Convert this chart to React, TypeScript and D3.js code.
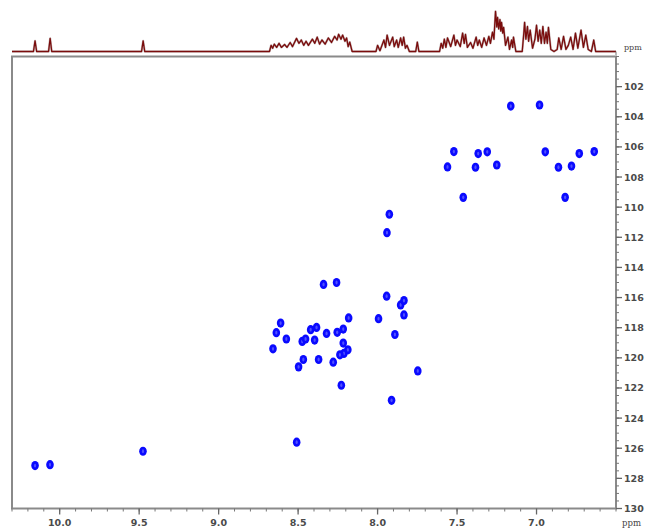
import React from 'react'
import * as d3 from 'd3'

// 2D cross peaks: [1H ppm, 15N ppm]
const crossPeaks: [number, number][] = [
  [10.155, 127.15], [10.061, 127.09], [9.476, 126.2], [8.509, 125.6],
  [7.926, 110.47], [7.941, 111.69], [7.943, 115.91], [7.855, 116.49], [7.834, 116.2],
  [7.834, 117.15], [7.994, 117.4], [7.891, 118.45], [7.747, 120.87], [7.912, 122.82],
  [8.34, 115.13], [8.258, 115.0], [8.182, 117.35], [8.61, 117.69], [8.637, 118.33],
  [8.574, 118.75], [8.658, 119.4], [8.421, 118.13], [8.384, 117.98], [8.396, 118.82],
  [8.321, 118.38], [8.254, 118.31], [8.216, 118.09], [8.474, 118.91], [8.453, 118.75],
  [8.216, 119.02], [8.187, 119.47], [8.212, 119.71], [8.237, 119.8], [8.467, 120.11],
  [8.371, 120.11], [8.279, 120.29], [8.497, 120.6], [8.228, 121.82],
  [7.162, 103.29], [6.981, 103.22], [7.52, 106.31], [7.367, 106.44], [7.31, 106.33],
  [6.945, 106.33], [6.731, 106.44], [6.637, 106.31], [7.56, 107.33], [7.384, 107.35],
  [7.25, 107.2], [6.862, 107.35], [6.78, 107.27], [7.461, 109.35], [6.82, 109.35],
]

// 1D proton trace on top: [ppm, relative intensity]
const trace1D: [number, number][] = [
  [10.3, 0], [10.165, 0], [10.155, 0.26], [10.145, 0], [10.07, 0], [10.06, 0.32], [10.05, 0],
  [9.485, 0], [9.475, 0.26], [9.465, 0], [8.68, 0], [8.67, 0.15], [8.66, 0.08], [8.65, 0.18],
  [8.635, 0.1], [8.62, 0.2], [8.605, 0.1], [8.585, 0.17], [8.57, 0.1], [8.55, 0.22], [8.535, 0.12],
  [8.51, 0.32], [8.495, 0.2], [8.48, 0.28], [8.465, 0.15], [8.45, 0.25], [8.435, 0.15], [8.41, 0.3],
  [8.395, 0.2], [8.38, 0.35], [8.365, 0.18], [8.35, 0.28], [8.33, 0.18], [8.31, 0.33], [8.29, 0.22],
  [8.27, 0.37], [8.255, 0.28], [8.245, 0.42], [8.23, 0.3], [8.22, 0.4], [8.205, 0.25], [8.195, 0.33],
  [8.185, 0.12], [8.175, 0.23], [8.16, 0], [8.01, 0], [8.0, 0.15], [7.985, 0.02], [7.96, 0.28],
  [7.95, 0.1], [7.94, 0.4], [7.925, 0.15], [7.905, 0.35], [7.895, 0.12], [7.88, 0.28], [7.87, 0.1],
  [7.855, 0.33], [7.845, 0.15], [7.836, 0.35], [7.825, 0.08], [7.815, 0.15], [7.8, 0], [7.76, 0],
  [7.75, 0.23], [7.74, 0], [7.61, 0], [7.6, 0.2], [7.59, 0.08], [7.58, 0.3], [7.57, 0.1], [7.56, 0.33],
  [7.54, 0.12], [7.52, 0.4], [7.51, 0.15], [7.5, 0.28], [7.48, 0.12], [7.465, 0.45], [7.455, 0.2],
  [7.447, 0.42], [7.435, 0.1], [7.415, 0.22], [7.4, 0.08], [7.38, 0.35], [7.37, 0.15], [7.36, 0.28],
  [7.345, 0.1], [7.33, 0.33], [7.315, 0.15], [7.3, 0.37], [7.29, 0.2], [7.277, 0.47], [7.268, 0.3],
  [7.258, 0.98], [7.25, 0.6], [7.245, 0.83], [7.238, 0.55], [7.23, 0.78], [7.225, 0.5], [7.22, 0.71],
  [7.213, 0.45], [7.207, 0.59], [7.195, 0.15], [7.18, 0.35], [7.17, 0.05], [7.157, 0.28], [7.15, 0.1],
  [7.145, 0.35], [7.13, 0], [7.09, 0], [7.08, 0.45], [7.075, 0.71], [7.067, 0.3], [7.057, 0.61],
  [7.05, 0.25], [7.04, 0.52], [7.025, 0.08], [7.01, 0.3], [7.0, 0.64], [6.99, 0.25], [6.98, 0.52],
  [6.97, 0.2], [6.96, 0.61], [6.95, 0.2], [6.94, 0.47], [6.932, 0.2], [6.925, 0.59], [6.91, 0.05],
  [6.89, 0], [6.87, 0.05], [6.86, 0.33], [6.845, 0.05], [6.83, 0.37], [6.815, 0.05], [6.8, 0.15],
  [6.785, 0.35], [6.77, 0.05], [6.755, 0.45], [6.74, 0.08], [6.72, 0.52], [6.705, 0.1], [6.69, 0.4],
  [6.675, 0.05], [6.655, 0], [6.64, 0.28], [6.628, 0], [6.5, 0],
]

const xMajor = [10.0, 9.5, 9.0, 8.5, 8.0, 7.5, 7.0]
const yMajor = [102, 104, 106, 108, 110, 112, 114, 116, 118, 120, 122, 124, 126, 128, 130]

const W = 645
const H = 529
const frame = { left: 12, right: 616, top: 56.5, bottom: 508.5 }

export default function App() {
  const x = d3.scaleLinear().domain([10.3, 6.5]).range([frame.left, frame.right])
  const y = d3.scaleLinear().domain([100, 130]).range([frame.top, frame.bottom])
  const yTop = d3.scaleLinear().domain([0, 1]).range([51.5, 10.5])

  const line = d3.line<[number, number]>().x(d => x(d[0])).y(d => yTop(d[1]))

  const xMinor = d3.range(0, 39).map(i => 10.3 - i * 0.1).filter(v => v > 6.49)
  const yMinor = d3.range(0, 61).map(i => 100 + i * 0.5)

  const labelFont = { fontFamily: 'DejaVu Sans', fontWeight: 700, fontSize: 9.5, fill: '#4a4a4a' }

  return (
    <svg width={W} height={H} style={{ position: 'absolute', left: 0, top: 0, background: '#fff' }}>
      {/* top 1D spectrum */}
      <path d={line(trace1D) ?? ''} fill="none" stroke="#3a0000" strokeWidth={2.2} opacity={0.3} strokeLinejoin="round" />
      <path d={line(trace1D) ?? ''} fill="none" stroke="#7a0c0c" strokeWidth={1.3} strokeLinejoin="round" />
      <line x1={frame.right} x2={frame.right} y1={51.5} y2={55} stroke="#777" strokeWidth={1} />
      <text x={624} y={50} style={{ fontFamily: 'DejaVu Serif', fontSize: 8, fill: '#444' }}>ppm</text>

      {/* frame */}
      <rect x={frame.left} y={frame.top} width={frame.right - frame.left} height={frame.bottom - frame.top}
        fill="none" stroke="#8a8a8a" strokeWidth={2} />

      {/* x axis ticks */}
      {xMinor.map((v, i) => (
        <line key={'xm' + i} x1={x(v)} x2={x(v)} y1={frame.bottom} y2={frame.bottom + 3} stroke="#777" strokeWidth={1} />
      ))}
      {xMajor.map(v => (
        <g key={'xM' + v}>
          <line x1={x(v)} x2={x(v)} y1={frame.bottom} y2={frame.bottom + 6} stroke="#666" strokeWidth={1.3} />
          <text x={x(v)} y={526} textAnchor="middle" style={labelFont}>{v.toFixed(1)}</text>
        </g>
      ))}
      <text x={622} y={526} style={{ fontFamily: 'DejaVu Serif', fontSize: 8.5, fill: '#444' }}>ppm</text>

      {/* y axis ticks (right) */}
      {yMinor.map((v, i) => (
        <line key={'ym' + i} x1={frame.right} x2={frame.right + 3} y1={y(v)} y2={y(v)} stroke="#777" strokeWidth={1} />
      ))}
      {yMajor.map(v => (
        <g key={'yM' + v}>
          <line x1={frame.right} x2={frame.right + 6} y1={y(v)} y2={y(v)} stroke="#666" strokeWidth={1.3} />
          <text x={624} y={y(v)} dominantBaseline="central" style={labelFont}>{v}</text>
        </g>
      ))}

      {/* cross peaks */}
      {crossPeaks.map((p, i) => (
        <g key={'p' + i} transform={`translate(${x(p[0])},${y(p[1])})`}>
          <ellipse rx={3.8} ry={4.6} fill="#0a0aff" />
          <ellipse rx={1.1} ry={1.9} fill="#5050ff" />
        </g>
      ))}
    </svg>
  )
}
